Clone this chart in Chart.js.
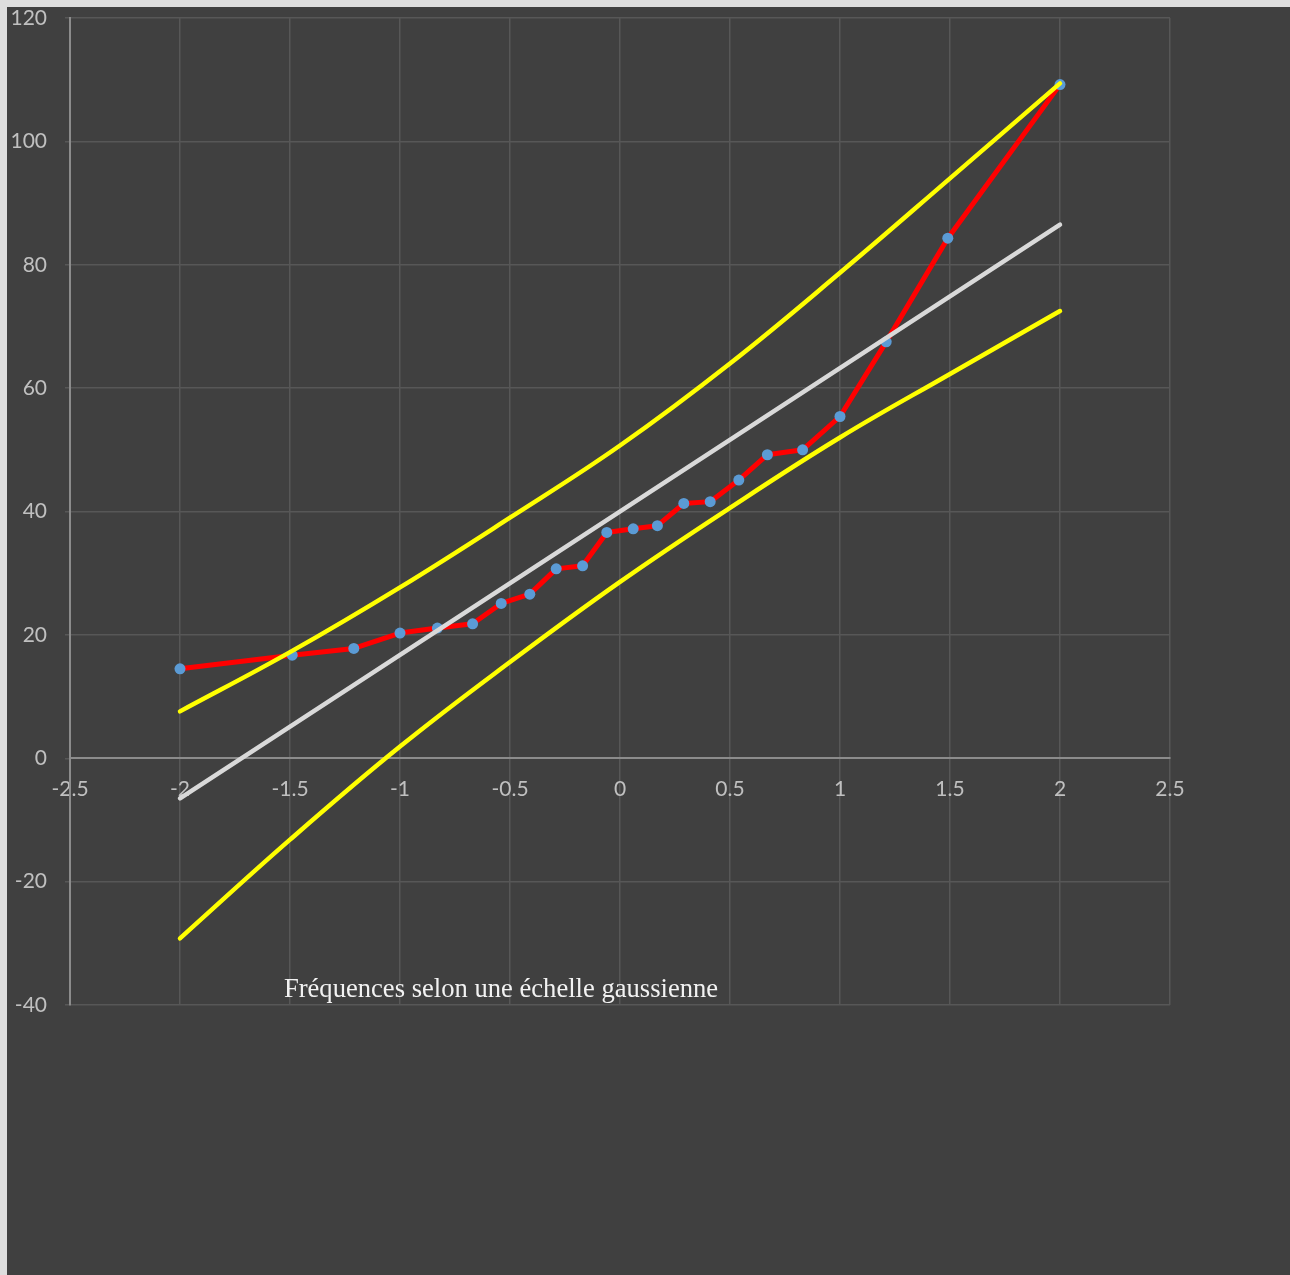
<!DOCTYPE html>
<html>
<head>
<meta charset="utf-8">
<script src="https://cdn.jsdelivr.net/npm/chart.js@4/dist/chart.umd.min.js"></script>
<style>
  html, body { margin: 0; padding: 0; background: #dedede; width: 1290px; height: 1275px; overflow: hidden; }
  #wrap { position: absolute; left: 7px; top: 7px; width: 1283px; height: 1268px; background: #404040; }
</style>
</head>
<body>
<div id="wrap"><canvas id="chart"></canvas></div>
<script>
// Axis ticks
const xTicks = [-2.5, -2, -1.5, -1, -0.5, 0, 0.5, 1, 1.5, 2, 2.5];
const yTicks = [-40, -20, 0, 20, 40, 60, 80, 100, 120];

// Observed frequencies plotted against their gaussian quantiles
const quantiles = [-2.00, -1.49, -1.21, -1.00, -0.83, -0.67, -0.54, -0.41, -0.29, -0.17, -0.06,
                    0.06, 0.17, 0.29, 0.41, 0.54, 0.67, 0.83, 1.00, 1.21, 1.49, 2.00];
const frequencies = [14.5, 16.7, 17.8, 20.3, 21.1, 21.8, 25.1, 26.6, 30.7, 31.2, 36.6,
                     37.2, 37.7, 41.3, 41.6, 45.1, 49.2, 50.0, 55.4, 67.5, 84.3, 109.2];

// Fitted line (Henry line) end points
const fitX = [-2, 2];
const fitY = [-6.5, 86.5];

// Confidence band
const bandX = [-2, -1.5, -1, -0.5, 0, 0.5, 1, 1.5, 2];
const bandUpper = [7.6, 17.2, 27.7, 39.0, 50.7, 64.0, 78.7, 94.0, 109.4];
const bandLower = [-29.2, -13.2, 1.9, 15.6, 28.6, 40.6, 52.0, 62.3, 72.5];

const chartTitle = 'Fréquences selon une échelle gaussienne';

const pts = (xs, ys) => xs.map((x, i) => ({ x, y: ys[i] }));

const gridColor = '#575757';
const axisColor = '#8c8c8c';
const labelColor = '#c0c0c0';

const titlePlugin = {
  id: 'bottomTitle',
  afterDatasetsDraw(chart) {
    const { ctx, chartArea } = chart;
    ctx.save();
    ctx.font = '26.6px "Liberation Serif"';
    ctx.fillStyle = '#f2f2f2';
    ctx.textAlign = 'center';
    ctx.textBaseline = 'alphabetic';
    ctx.fillText(chartTitle, chartArea.left + 431, chartArea.bottom - 8);
    ctx.restore();
  }
};

const bandStyle = {
  showLine: true,
  borderColor: '#ffff00',
  borderWidth: 4.5,
  borderCapStyle: 'round',
  tension: 0.4,
  pointRadius: 0,
  order: 1
};

new Chart(document.getElementById('chart'), {
  type: 'scatter',
  data: {
    datasets: [
      Object.assign({ label: 'Borne supérieure', data: pts(bandX, bandUpper) }, bandStyle),
      Object.assign({ label: 'Borne inférieure', data: pts(bandX, bandLower) }, bandStyle),
      {
        label: 'Droite de Henry',
        data: pts(fitX, fitY),
        showLine: true,
        borderColor: '#d9d9d9',
        borderWidth: 4.5,
        borderCapStyle: 'round',
        pointRadius: 0,
        order: 2
      },
      {
        label: 'Fréquences',
        data: pts(quantiles, frequencies),
        showLine: true,
        borderColor: '#ff0000',
        borderWidth: 5,
        borderJoinStyle: 'round',
        pointRadius: 5.5,
        pointBackgroundColor: '#5b9bd5',
        pointBorderWidth: 0,
        order: 3
      }
    ]
  },
  options: {
    responsive: true,
    maintainAspectRatio: false,
    animation: false,
    layout: { padding: { left: 0, top: 11, right: 120, bottom: 270 } },
    plugins: { legend: { display: false }, tooltip: { enabled: false }, title: { display: false } },
    scales: {
      x: {
        type: 'linear',
        position: { y: 0 },
        min: -2.5,
        max: 2.5,
        afterBuildTicks: s => { s.ticks = xTicks.map(v => ({ value: v })); },
        grid: {
          color: c => (c.tick && c.tick.value === -2.5) ? 'rgba(0,0,0,0)' : gridColor,
          lineWidth: 1.5,
          drawTicks: false
        },
        border: { display: true, color: axisColor, width: 2 },
        ticks: {
          color: labelColor,
          font: { family: 'Lato', size: 21 },
          padding: 18,
          maxRotation: 0,
          autoSkip: false,
          callback: v => String(v)
        }
      },
      y: {
        type: 'linear',
        position: 'left',
        min: -40,
        max: 120,
        afterBuildTicks: s => { s.ticks = yTicks.map(v => ({ value: v })); },
        afterFit: s => { s.width = 63; },
        grid: {
          color: c => (c.tick && c.tick.value === 0) ? 'rgba(0,0,0,0)' : gridColor,
          tickColor: gridColor,
          lineWidth: 1.5,
          tickLength: 23,
          // the tick line runs from the label side to the axis; only its last 5px show
          tickBorderDash: [0, 18, 5, 100]
        },
        border: { display: true, color: axisColor, width: 2 },
        ticks: {
          color: labelColor,
          font: { family: 'Lato', size: 21, lineHeight: 1 },
          padding: 0,
          autoSkip: false,
          callback: v => String(v)
        }
      }
    }
  },
  plugins: [titlePlugin]
});
</script>
</body>
</html>
